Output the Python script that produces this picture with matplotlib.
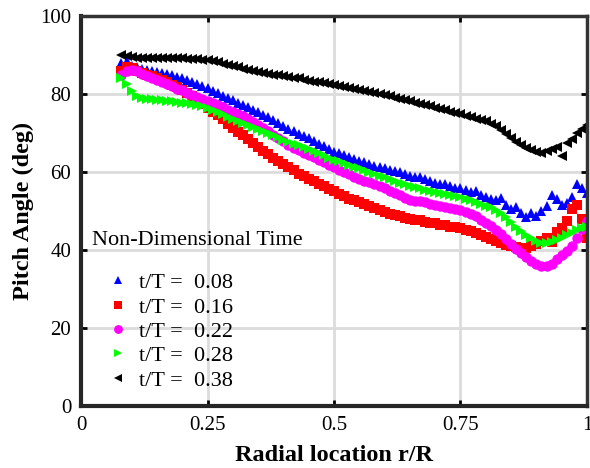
import numpy as np
import matplotlib
matplotlib.use('Agg')
import matplotlib.pyplot as plt

# radial stations r/R
r = np.round(np.arange(0.08, 1.0001, 0.01), 2)

# pitch angle (deg) per non-dimensional time
pitch_008 = [88.0, 88.5, 87.2, 86.8, 86.5, 86.2, 86.0, 85.6, 85.4, 85.2,
             84.8, 84.4, 84.0, 83.5, 83.0, 82.5, 82.0, 81.5, 80.8, 80.2,
             79.6, 79.0, 78.4, 77.8, 77.2, 76.6, 76.0, 75.3, 74.6, 74.0,
             73.3, 72.6, 71.8, 71.0, 70.4, 69.8, 69.2, 68.6, 68.0, 67.3,
             66.6, 65.8, 65.2, 64.8, 64.3, 63.8, 63.3, 62.9, 62.5, 62.0,
             61.6, 61.2, 60.9, 60.6, 60.3, 59.9, 59.5, 59.0, 58.6, 58.6,
             58.2, 57.6, 57.3, 57.0, 56.8, 56.4, 56.0, 56.0, 55.4, 54.8,
             55.2, 54.2, 53.6, 53.0, 52.8, 53.4, 51.5, 50.5, 51.0, 49.5,
             48.4, 49.5, 48.8, 50.0, 51.2, 54.0, 53.0, 51.5, 52.0, 53.5,
             56.8, 56.0, 54.5]
pitch_016 = [86.0, 86.8, 86.6, 86.0, 85.5, 85.0, 84.5, 84.0, 83.5, 83.0,
             82.4, 81.8, 81.0, 80.2, 79.4, 78.5, 77.5, 76.5, 75.5, 74.5,
             73.5, 72.4, 71.3, 70.3, 69.4, 68.5, 67.5, 66.5, 65.5, 64.6,
             63.6, 62.8, 62.0, 61.2, 60.4, 59.6, 58.9, 58.3, 57.7, 57.0,
             56.4, 55.6, 55.0, 54.4, 53.8, 53.2, 52.7, 52.3, 51.8, 51.3,
             50.7, 50.2, 49.7, 49.3, 49.0, 48.6, 48.2, 48.0, 47.8, 47.6,
             47.3, 47.0, 46.8, 46.5, 46.3, 46.0, 45.8, 45.6, 45.2, 44.8,
             44.3, 43.8, 43.3, 42.8, 42.3, 41.8, 41.4, 41.0, 40.7, 40.5,
             40.6, 41.0, 41.6, 42.4, 43.2, 42.0, 44.5, 45.6, 47.5, 50.5,
             51.5, 48.0, 43.0]
pitch_022 = [85.0, 86.0, 86.2, 85.8, 85.2, 84.6, 84.0, 83.5, 83.0, 82.5,
             82.0, 81.4, 80.9, 80.3, 79.8, 79.3, 78.8, 78.3, 77.8, 77.2,
             76.6, 76.0, 75.5, 75.0, 74.3, 73.6, 72.8, 72.0, 71.2, 70.4,
             69.6, 68.8, 68.0, 67.0, 66.2, 65.6, 65.0, 64.4, 63.8, 63.2,
             62.6, 61.8, 61.2, 60.6, 60.0, 59.4, 58.8, 58.3, 57.8, 57.4,
             57.0, 56.4, 55.8, 55.2, 54.6, 54.0, 53.4, 52.8, 52.6, 52.6,
             52.2, 51.8, 51.5, 51.3, 51.0, 50.8, 50.5, 50.3, 49.8, 49.2,
             48.6, 47.8, 47.0, 46.2, 45.2, 44.0, 42.8, 41.6, 40.3, 39.2,
             38.2, 37.3, 36.5, 36.0, 36.0, 36.5, 37.8, 38.6, 39.8, 41.0,
             43.0, 45.5, 47.5]
pitch_028 = [84.0, 82.5, 80.8, 79.5, 79.0, 78.8, 78.6, 78.5, 78.4, 78.3,
             78.1, 78.0, 77.8, 77.7, 77.4, 77.2, 76.8, 76.4, 76.0, 75.4,
             74.8, 74.2, 73.7, 73.1, 72.6, 72.1, 71.6, 71.0, 70.5, 70.0,
             69.4, 68.9, 68.3, 67.8, 67.3, 66.8, 66.3, 65.8, 65.3, 64.8,
             64.3, 63.7, 63.2, 62.7, 62.3, 61.8, 61.4, 60.9, 60.4, 60.0,
             59.5, 59.0, 58.6, 58.2, 57.8, 57.3, 56.9, 56.4, 56.1, 55.8,
             55.5, 55.2, 54.9, 54.7, 54.4, 54.1, 53.9, 53.6, 53.2, 52.8,
             52.3, 51.8, 51.3, 50.9, 50.3, 49.6, 48.4, 47.2, 46.0, 44.8,
             43.8, 43.0, 42.3, 41.9, 41.8, 42.0, 42.5, 43.2, 43.8, 44.4,
             45.0, 45.6, 46.0]
pitch_038 = [90.0, 89.8, 89.5, 89.3, 89.3, 89.2, 89.2, 89.3, 89.2, 89.2,
             89.3, 89.2, 89.2, 89.1, 89.0, 88.9, 88.8, 88.6, 88.4, 88.1,
             87.8, 87.5, 87.2, 86.8, 86.5, 86.1, 85.8, 85.6, 85.4, 85.2,
             85.0, 84.8, 84.6, 84.4, 84.2, 84.0, 83.7, 83.4, 83.2, 83.0,
             82.7, 82.5, 82.3, 82.0, 81.8, 81.5, 81.3, 81.0, 80.8, 80.5,
             80.2, 80.0, 79.7, 79.4, 79.1, 78.8, 78.5, 78.2, 77.8, 77.5,
             77.2, 76.8, 76.5, 76.2, 75.8, 75.5, 75.1, 74.8, 74.4, 74.1,
             73.7, 73.3, 73.0, 72.4, 71.7, 70.8, 69.8, 68.8, 67.8, 67.0,
             66.2, 65.6, 65.2, 65.0, 65.3, 65.8, 66.4, 64.0, 67.5, 68.5,
             70.0, 71.0, 72.0]

series_labels = ['t/T =  0.08', 't/T =  0.16', 't/T =  0.22', 't/T =  0.28', 't/T =  0.38']
series_values = [pitch_008, pitch_016, pitch_022, pitch_028, pitch_038]
markers = ['^', 's', 'o', '>', '<']
colors = ['#0000ff', '#ff0000', '#ff00ff', '#00ff00', '#000000']

x_ticks = [0, 0.25, 0.5, 0.75, 1]
x_tick_labels = ['0', '0.25', '0.5', '0.75', '1']
y_ticks = [0, 20, 40, 60, 80, 100]

plt.rcParams['font.family'] = ['Liberation Serif', 'DejaVu Serif']

fig = plt.figure(figsize=(5.9, 4.68), dpi=100)
ax = fig.add_axes([0.1373, 0.1325, 0.8576, 0.8333])

for vals, lab, mk, col in zip(series_values, series_labels, markers, colors):
    ax.plot(r, vals, linestyle='none', marker=mk, color=col, markersize=7.5,
            markeredgewidth=0, label=lab)

ax.set_xlim(0, 1)
ax.set_ylim(0, 100)
ax.set_xticks(x_ticks)
ax.set_xticklabels(x_tick_labels)
ax.set_yticks(y_ticks)
ax.tick_params(direction='in', length=4, width=2, labelsize=15, pad=7,
               top=True, right=True)
ax.grid(True, color='#dcdcdc', linewidth=2)
ax.set_axisbelow(True)

for side in ['left', 'bottom']:
    ax.spines[side].set_linewidth(3)
    ax.spines[side].set_color('#262626')
for side in ['top', 'right']:
    ax.spines[side].set_linewidth(2.5)
    ax.spines[side].set_color('#333333')

ax.set_xlabel('Radial location r/R', fontsize=17.5, fontweight='bold')
ax.set_ylabel('Pitch Angle (deg)', fontsize=17.5, fontweight='bold')
ax.xaxis.set_label_coords(0.5, -0.1)
ax.yaxis.set_label_coords(-0.093, 0.5)

# legend title drawn on its own, entries indented below it
ax.text(0.0217, 0.4256, 'Non-Dimensional Time', transform=ax.transAxes,
        fontsize=16, ha='left', va='center')
leg = ax.legend(loc='upper left', bbox_to_anchor=(0.0514, 0.342), frameon=False,
                fontsize=16, handlelength=1.0, handletextpad=0.45,
                labelspacing=0.17, borderpad=0, borderaxespad=0,
                markerscale=0.85)

fig.savefig('out.png', dpi=100)
